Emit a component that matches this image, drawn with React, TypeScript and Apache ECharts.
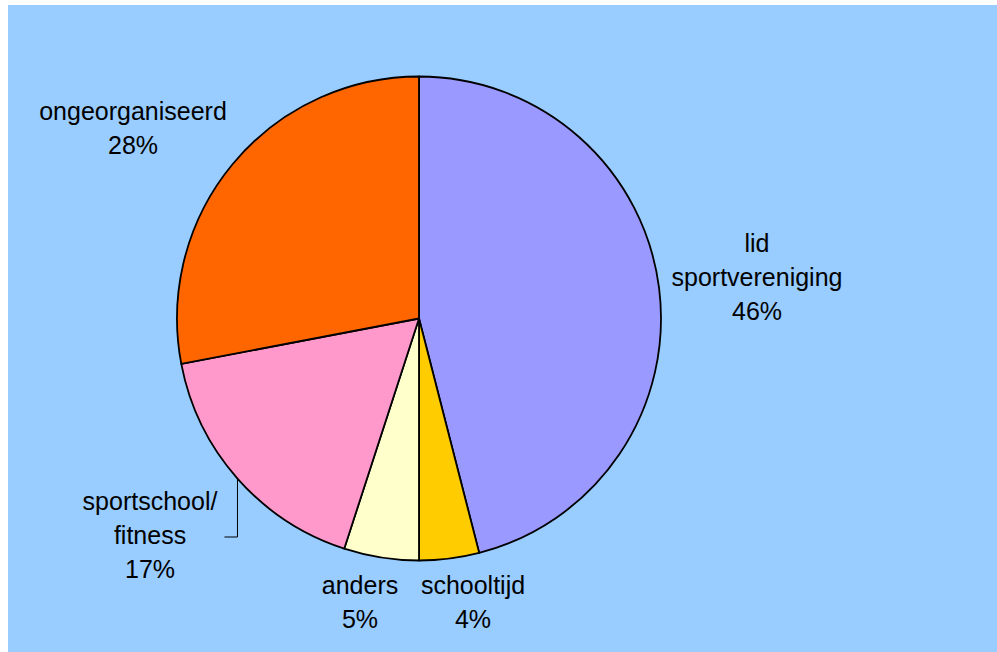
import React, { useEffect, useRef } from "react";
import * as echarts from "echarts";

const categories = ["lid\nsportvereniging", "schooltijd", "anders", "sportschool/\nfitness", "ongeorganiseerd"];
const values = [46, 4, 5, 17, 28];
const colors = ["#9999FF", "#FFCC00", "#FFFFCC", "#FF99CC", "#FF6600"];
// label anchor centres (chart px), layout only
const labelPos: [number, number][] = [
  [749, 272],
  [465, 597],
  [352, 597],
  [142, 530],
  [125, 123],
];

export default function App() {
  const ref = useRef<HTMLDivElement>(null);
  useEffect(() => {
    if (!ref.current) return;
    const chart = echarts.init(ref.current, null, { renderer: "svg" });
    chart.setOption({
      animation: false,
      backgroundColor: "#99CCFF",
      series: [
        {
          type: "pie",
          center: [411, 313.5],
          radius: 242,
          startAngle: 90,
          clockwise: true,
          avoidLabelOverlap: false,
          itemStyle: { borderColor: "#000", borderWidth: 1.8 },
          label: {
            show: true,
            position: "outside",
            formatter: (p: any) => `${p.name}\n${p.value}%`,
            color: "#000",
            fontFamily: "Liberation Sans, Arial, sans-serif",
            fontSize: 25,
            lineHeight: 34,
            align: "center",
          },
          labelLine: { show: false },
          emphasis: { disabled: true },
          labelLayout: (params: any) => {
            const i = params.dataIndex;
            const [x, y] = labelPos[i];
            const out: any = { x, y, align: "center", verticalAlign: "middle" };
            if (i === 3 && params.labelLinePoints) {
              const p0 = params.labelLinePoints[0];
              out.labelLinePoints = [
                [p0[0], p0[1]],
                [p0[0], y + 2],
                [p0[0] - 13, y + 2],
              ];
            }
            return out;
          },
          data: categories.map((c, i) => ({
            name: c,
            value: values[i],
            itemStyle: { color: colors[i] },
            labelLine:
              i === 3
                ? { show: true, length: 10, length2: 10, lineStyle: { color: "#000", width: 1 } }
                : { show: false },
          })),
        },
      ],
    });
    return () => chart.dispose();
  }, []);
  return (
    <div
      ref={ref}
      style={{ position: "absolute", left: 8, top: 5, width: 989, height: 647 }}
    />
  );
}
